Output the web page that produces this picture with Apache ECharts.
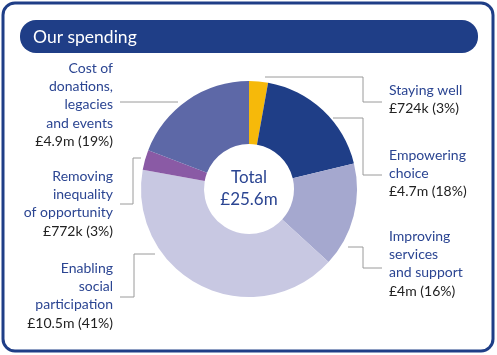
<!DOCTYPE html>
<html><head><meta charset="utf-8">
<script src="https://cdn.jsdelivr.net/npm/echarts@6/dist/echarts.min.js"></script>
<style>html,body{margin:0;padding:0;background:#fff}#c{width:497px;height:355px}</style>
</head><body><div id="c"></div>
<script>
// Data
var categories = ['Staying well', 'Empowering\nchoice', 'Improving\nservices\nand support', 'Enabling\nsocial\nparticipation', 'Removing\ninequality\nof opportunity', 'Cost of\ndonations,\nlegacies\nand events'];
var valuesMillions = [0.724, 4.7, 4.0, 10.5, 0.772, 4.9];
var amountLabels = ['£724k', '£4.7m', '£4m', '£10.5m', '£772k', '£4.9m'];
var totalLabel = '£25.6m';
var colors = ['#f6b90a', '#1f3e87', '#a5a8cf', '#c8c8e2', '#8a5aa5', '#5d68a7'];

// Layout (annotation placement only)
var labelPos = [
  {x: 389, y: 81, align: 'left'},
  {x: 389, y: 146, align: 'left'},
  {x: 389, y: 227, align: 'left'},
  {x: 113, y: 259, align: 'right'},
  {x: 113, y: 167, align: 'right'},
  {x: 113, y: 59, align: 'right'}
];
var leaderLines = [
  [[265,77],[363,77],[363,102],[382,102]],
  [[333,118],[363,118],[363,175],[382,175]],
  [[348,247],[363,247],[363,268],[382,268]],
  [[155,254],[134,254],[134,297],[120,297]],
  [[141,158],[133,158],[133,204],[120,204]],
  [[178,102],[120,102]]
];

var chart = echarts.init(document.getElementById('c'), null, {renderer: 'canvas'});
var FONT = 'Lato';
var data = categories.map(function (c, i) {
  return {name: c, value: valuesMillions[i], amount: amountLabels[i], itemStyle: {color: colors[i]}};
});
chart.setOption({
  animation: false,
  graphic: [
    {type: 'rect', shape: {x: 3, y: 3, width: 490, height: 348, r: 12}, style: {fill: '#fff', stroke: '#1f3e87', lineWidth: 3}, z: -10},
    {type: 'rect', shape: {x: 20, y: 20, width: 458, height: 33, r: 16}, style: {fill: '#1f3e87'}, z: -9},
    {type: 'text', x: 33, y: 37, style: {text: 'Our spending', fill: '#fff', font: '17.5px ' + FONT, textVerticalAlign: 'middle'}},
    {type: 'text', x: 249, y: 189, style: {text: 'Total\n' + totalLabel, fill: '#2b4592', font: '17px ' + FONT, textAlign: 'center', textVerticalAlign: 'middle', lineHeight: 22}}
  ],
  series: [{
    type: 'pie',
    center: [249, 189],
    radius: [45, 108],
    startAngle: 90,
    clockwise: true,
    data: data,
    label: {
      show: true,
      position: 'outside',
      formatter: function (p) {
        return '{n|' + p.name.split('\n').join('}\n{n|') + '}\n{v|' + p.data.amount + ' (' + Math.round(p.percent) + '%)}';
      },
      rich: {
        n: {color: '#2b4592', fontSize: 14, fontFamily: FONT, lineHeight: 18.3},
        v: {color: '#222', fontSize: 14, fontFamily: FONT, lineHeight: 18.3}
      }
    },
    labelLine: {show: true, length: 10, length2: 10, lineStyle: {color: '#9a9a9a', width: 1}},
    labelLayout: function (p) {
      var lp = labelPos[p.dataIndex];
      return {x: lp.x, y: lp.y, align: lp.align, verticalAlign: 'top', labelLinePoints: leaderLines[p.dataIndex]};
    },
    emphasis: {disabled: true}
  }]
});
</script></body></html>
